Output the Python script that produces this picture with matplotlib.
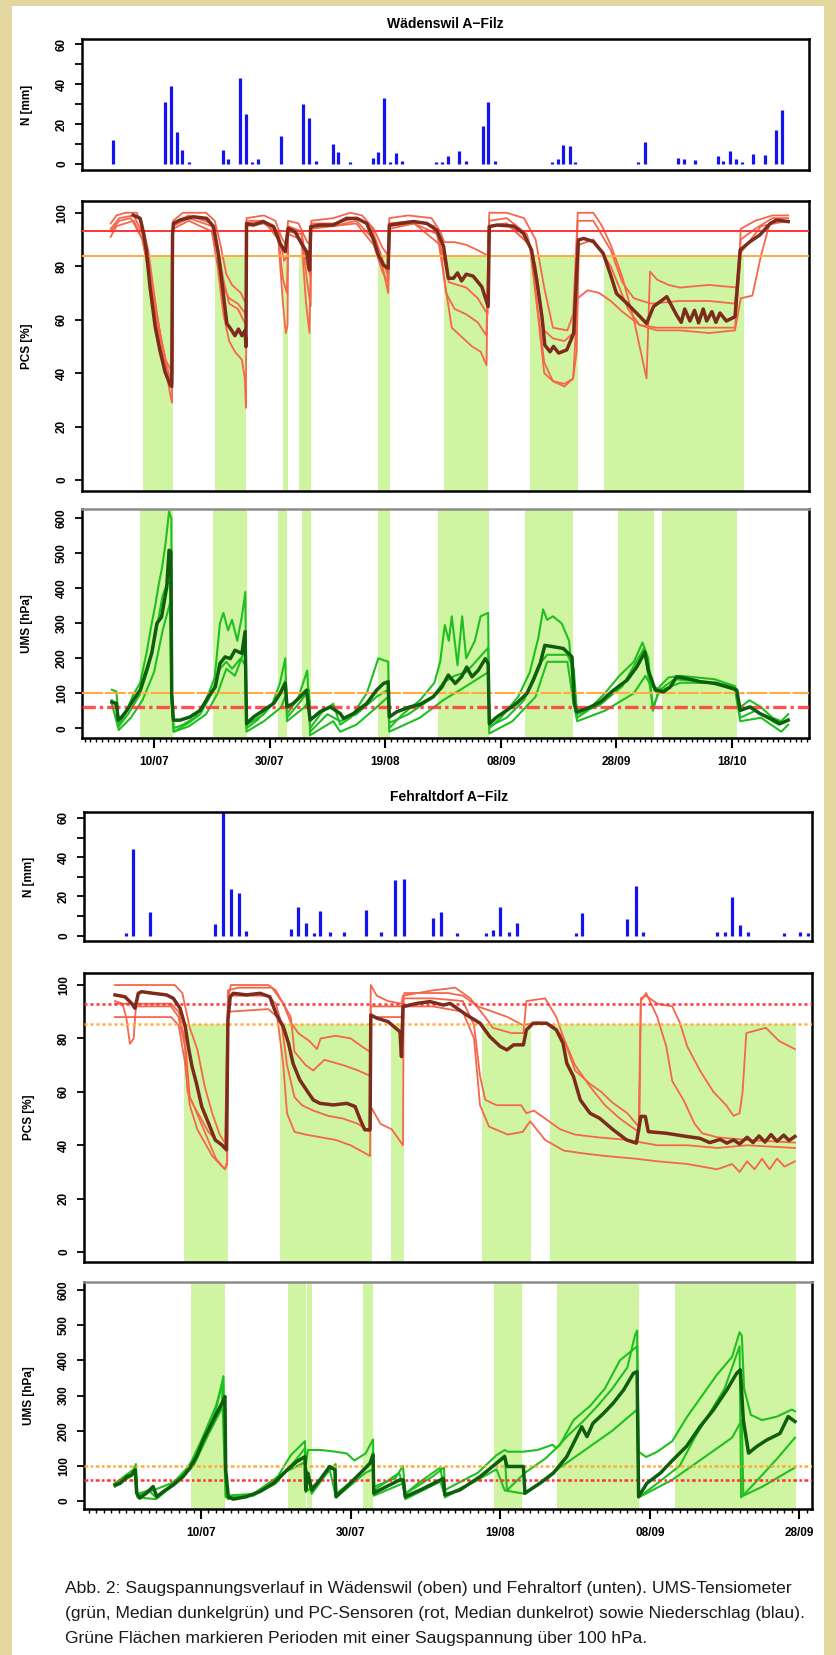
import numpy as np
import matplotlib
matplotlib.use('Agg')
import matplotlib.pyplot as plt
from matplotlib.patches import Rectangle

plt.rcParams['font.family'] = ['Liberation Sans', 'DejaVu Sans']

# ------------------------------------------------------------------ data
# x values are days after 1 July
W_TICK_DAYS = [9, 29, 49, 69, 89, 109]
W_TICK_LABELS = ['10/07', '30/07', '19/08', '08/09', '28/09', '18/10']
F_TICK_DAYS = [9, 29, 49, 69, 89]
F_TICK_LABELS = ['10/07', '30/07', '19/08', '08/09', '28/09']

TITLE_W = 'Wädenswil A\u2212Filz'
TITLE_F = 'Fehraltdorf A\u2212Filz'
CAPTION = ['Abb. 2: Saugspannungsverlauf in Wädenswil (oben) und Fehraltorf (unten). UMS-Tensiometer',
           '(grün, Median dunkelgrün) und PC-Sensoren (rot, Median dunkelrot) sowie Niederschlag (blau).',
           'Grüne Flächen markieren Perioden mit einer Saugspannung über 100 hPa.']

# precipitation, Wädenswil
W_RAIN_DAY = [1.9, 10.9, 11.9, 12.9, 13.9, 15.0, 20.9, 21.8, 23.9, 24.9, 25.9, 27.0, 31.0, 34.8,
              35.8, 37.0, 40.0, 40.9, 42.9, 46.8, 47.8, 48.8, 49.8, 50.9, 51.9, 57.8, 58.8, 59.8,
              61.8, 62.9, 65.9, 66.8, 67.9, 77.8, 78.8, 79.8, 80.9, 81.8, 92.8, 93.9, 99.7, 100.7,
              102.6, 106.6, 107.5, 108.7, 109.7, 110.7, 112.6, 114.7, 116.6, 117.6]
W_RAIN_MM = [12, 31, 39, 16, 7, 1, 7, 2.5, 43, 25, 1, 2.5, 14, 30,
             23, 1.5, 10, 6, 1, 3, 6, 33, 1, 5.5, 1.5, 1, 1, 4,
             6.5, 1.5, 19, 31, 1.5, 1, 2.5, 9.5, 9, 1, 1, 11, 3, 2.5,
             2, 4, 1.5, 6.5, 2.5, 1, 5, 4.5, 17, 27]

# precipitation, Fehraltorf
F_RAIN_DAY = [-1.0, -0.05, 2.2, 10.9, 12.0, 13.0, 14.05, 15.05, 21.0, 22.0, 23.1, 24.1, 24.96,
              26.2, 28.1, 31.1, 33.0, 35.0, 36.1, 40.0, 41.06, 43.2, 47.05, 48.0, 49.0, 50.2,
              51.2, 59.1, 60.0, 66.0, 67.1, 68.1, 78.0, 79.05, 80.0, 81.0, 82.1, 87.0, 89.1, 90.1]
F_RAIN_MM = [1.5, 44, 12, 6, 63, 24, 21.5, 2.5, 3.5, 14.5, 6.5, 1.5, 12.5,
             2, 2, 13, 2, 28.5, 29, 9, 12, 1.5, 1.5, 3, 14.5, 2,
             6.5, 1.5, 11.5, 8.5, 25.5, 2, 2, 2, 19.5, 5.5, 2, 1.5, 2, 1.5]

# shaded periods (suction > 100 hPa)
W_PC_SPANS = [(7.15, 12.3), (19.5, 24.9), (31.3, 32.1), (34.1, 36.1), (47.7, 49.9),
              (59.2, 66.7), (74.1, 82.3), (86.9, 111.1)]
W_UMS_SPANS = [(6.5, 12.3), (19.2, 25.1), (30.4, 31.95), (34.6, 36.2), (47.7, 49.9),
               (58.1, 67.0), (73.2, 81.5), (89.2, 95.5), (96.9, 109.9)]
F_PC_SPANS = [(6.77, 12.57), (19.56, 31.8), (34.4, 36.1), (46.6, 53.1), (55.7, 88.5)]
F_UMS_SPANS = [(7.6, 12.2), (20.6, 23.0), (23.2, 23.8), (30.7, 32.0), (48.2, 51.9),
               (56.55, 67.5), (72.3, 88.5)]

# threshold lines
W_PC_RED, W_PC_ORANGE = 93, 84
F_PC_RED, F_PC_ORANGE = 93, 85.4
UMS_RED, UMS_ORANGE = 60, 100

# ---- Wädenswil PC sensors [%]
W_PC_MED = [(5.4, 99.1), (6.6, 97.9), (7.2, 92.3), (7.7, 85.4), (8.3, 72.3), (9.2, 57.4), (10.0, 48.7),
            (10.9, 40.5), (11.8, 35.6), (12.06, 35.0), (12.2, 91.7), (12.35, 96), (13.5, 97.3),
            (15.8, 98.5), (18.1, 97.9), (19.3, 94.8), (20.1, 84.8), (20.7, 74.8), (21.6, 58.6),
            (22.4, 56.1), (23.0, 54.0), (23.6, 56.5), (24.2, 54.0), (24.75, 56.0), (24.9, 49.9),
            (25.0, 96), (26.2, 95.4), (27.9, 96.7), (29.7, 94.8), (30.8, 88.5), (31.7, 85.4),
            (32.2, 94.2), (33.4, 92.9), (34.5, 88.5), (35.4, 85.4), (35.9, 78.6), (36.1, 94.8),
            (37.7, 95.4), (40.0, 95.4), (42.3, 97.9), (44.1, 97.9), (45.8, 96), (47.0, 89.8),
            (47.8, 84.2), (48.7, 80.4), (49.5, 79.2), (49.7, 95.4), (51.56, 96), (53.9, 96.7),
            (56.2, 96), (57.9, 93.5), (59.1, 87.3), (59.9, 75.5), (60.8, 75.5), (61.5, 77.5),
            (62.2, 74.5), (63.0, 77.0), (64.2, 76.3), (65.7, 72.3), (66.8, 64.9), (67.0, 94.8),
            (68.3, 95.4), (71.2, 95), (72.9, 92.3), (74.3, 86.1), (75.2, 74.8), (76.1, 61.1),
            (76.6, 50.5), (77.5, 48.0), (78.1, 50.0), (79.0, 47.5), (80.4, 48.7), (81.6, 54.9),
            (82.4, 89.8), (83.3, 90.4), (85.0, 89.2), (86.7, 84.8), (87.9, 77.3), (89.0, 69.8),
            (90.8, 66.1), (92.5, 62.4), (94.2, 58.6), (95.4, 64.9), (97.7, 68.6), (99.4, 61.7),
            (100.2, 59.0), (100.8, 64.0), (101.7, 59.5), (102.5, 63.5), (103.2, 58.8),
            (104.0, 64.0), (104.6, 59.5), (105.5, 63.0), (106.2, 59.0), (106.9, 62.5),
            (108.0, 59.5), (109.5, 61.1), (110.4, 86.1), (112.1, 89.2), (113.8, 91.7),
            (115.6, 96), (116.7, 97.3), (118.7, 96.7)]
W_PC_1 = [(1.5, 96), (2.5, 99), (4, 100), (6, 100), (7, 95), (8, 86), (9, 70), (10, 55), (11, 45),
          (12.2, 40), (12.3, 97), (14, 100), (18, 100), (19.5, 97), (20.5, 88), (21.5, 77),
          (22.5, 73), (24, 70), (24.9, 66), (25, 98), (28, 99), (30, 97), (31, 91), (31.8, 88),
          (32.2, 97), (34, 96), (35.5, 89), (36.1, 88), (36.2, 97), (40, 98), (43, 100), (45, 99),
          (47, 94), (48.5, 87), (49.5, 84), (49.7, 98), (53, 99), (57, 98), (58.5, 93), (59.2, 89),
          (61, 89), (63, 88), (65, 86), (66.7, 84), (67, 100), (70, 100), (73, 98), (75, 90),
          (76.5, 72), (78, 57), (80.5, 56), (81.5, 62), (82.3, 100), (85, 100), (86.5, 95),
          (88, 88), (90, 76), (92, 60), (93.5, 45), (94.2, 38), (94.8, 78), (96, 75), (98, 73),
          (100, 72), (105, 73), (110, 72), (110.5, 94), (113, 97), (116, 99), (118.7, 99)]
W_PC_2 = [(1.5, 93), (3, 97), (5, 98), (7, 90), (8.5, 74), (10, 52), (11.5, 40), (12.1, 37),
          (12.3, 95), (15, 98), (19, 95), (20, 86), (21, 72), (22, 68), (23.5, 66), (24.9, 62),
          (25, 96), (28, 97), (30.5, 90), (31.3, 66), (31.8, 55), (32.1, 58), (32.2, 92),
          (34.5, 90), (35.3, 66), (35.9, 55), (36.2, 94), (40, 95), (44, 97), (47, 90),
          (48.5, 80), (49.5, 70), (49.8, 94), (54, 96), (58.5, 88), (59.5, 70), (61, 64),
          (63, 62), (65, 59), (66.5, 54), (66.9, 95), (70, 96), (74, 88), (75.5, 62),
          (76.5, 44), (78, 37), (80, 36), (81.5, 38), (82.3, 68), (84, 71), (86, 70), (88, 67),
          (90, 63), (93, 58), (96, 56), (100, 56), (105, 55), (109.5, 56), (110.5, 68),
          (112.5, 69), (114, 84), (115.5, 96), (118.7, 97)]
W_PC_3 = [(1.5, 94), (3, 98), (5.5, 99), (7, 92), (8, 82), (9.5, 62), (10.5, 50), (11.5, 40),
          (12.2, 36), (12.3, 96), (15, 99), (19, 96), (20, 88), (21, 75), (22, 66), (23.5, 64),
          (24.9, 58), (25.0, 97), (28, 97), (30.5, 93), (31.5, 82), (32.1, 84), (32.2, 95),
          (34.5, 93), (35.5, 80), (36.1, 76), (36.2, 96), (40, 96), (44, 98), (46.5, 95),
          (48, 86), (49.5, 76), (49.7, 96), (54, 97), (57.5, 95), (59, 84), (60, 74),
          (61.5, 73), (63, 72), (65, 68), (66.7, 62), (67, 97), (70, 98), (73.5, 92), (75, 80),
          (76.5, 56), (78, 53), (80, 52), (81.5, 55), (82.3, 97), (85, 97), (88, 86), (90, 74),
          (92, 68), (95, 66), (100, 67), (105, 67), (109.5, 66), (110.5, 90), (113, 94),
          (116, 98), (118.7, 98)]
W_PC_4 = [(1.5, 91), (2.5, 95), (5.5, 97), (7, 90), (8, 78), (9, 66), (10, 52), (11, 42),
          (11.8, 32), (12.1, 29), (12.3, 94), (15, 97), (19, 93), (20, 80), (21, 62), (22, 52),
          (23, 48), (24.2, 45), (24.7, 38), (24.9, 27), (25, 95), (28, 96), (30.5, 92),
          (31.3, 75), (32, 70), (32.2, 93), (34.5, 92), (35.5, 74), (36.1, 65), (36.2, 95),
          (40, 95), (44, 96), (47, 88), (48.5, 78), (49.5, 74), (49.8, 95), (54, 96), (58, 92),
          (59.3, 74), (60.5, 57), (62, 54), (64, 50), (65.5, 48), (66.5, 43), (66.9, 95),
          (70, 96), (74, 88), (75.5, 60), (76.5, 40), (78, 37), (80, 35), (81.5, 38),
          (82.1, 48), (82.5, 88), (85, 90), (88, 80), (91, 64), (93, 58), (96, 57), (100, 57),
          (105, 57), (109.5, 57), (110.5, 85), (114, 95), (118.7, 97)]

# ---- Wädenswil UMS tensiometers [hPa]
W_UMS_MED = [(1.7, 75), (2.5, 71), (2.8, 23), (3.4, 32), (4.3, 51), (5.4, 80), (6.6, 109),
             (7.7, 166), (8.6, 214), (9.5, 300), (10.3, 318), (11.2, 404), (11.6, 509),
             (11.9, 505), (12.06, 99), (12.35, 23), (13.5, 23), (15.2, 32), (17.0, 51),
             (18.4, 90), (19.6, 118), (20.4, 185), (21.3, 204), (22.2, 199), (23.0, 223),
             (24.2, 214), (24.75, 276), (25.0, 13), (26.2, 32), (27.9, 51), (29.7, 71),
             (30.8, 99), (31.7, 128), (32.0, 61), (33.1, 71), (34.3, 90), (35.4, 109), (36.0, 23),
             (37.7, 47), (39.5, 61), (41.2, 42), (41.8, 28), (43.5, 42), (45.8, 71), (47.5, 109),
             (48.7, 128), (49.5, 133), (49.7, 32), (51.0, 47), (53.3, 61), (55.0, 68), (57.3, 90),
             (58.8, 118), (59.9, 152), (61.1, 128), (62.2, 147), (63.1, 175), (64.0, 147),
             (65.1, 166), (66.3, 199), (66.8, 185), (67.0, 13), (68.3, 32), (70.0, 51),
             (71.7, 71), (73.5, 99), (74.6, 137), (75.8, 185), (76.6, 237), (78.1, 233),
             (79.8, 228), (81.3, 204), (81.7, 71), (82.1, 47), (83.9, 56), (86.2, 75),
             (88.5, 109), (90.8, 137), (92.5, 175), (93.9, 218), (94.5, 166), (95.7, 109),
             (97.1, 104), (98.3, 118), (99.4, 147), (101.2, 142), (103.5, 133), (106.3, 128),
             (109.2, 113), (109.8, 109), (110.4, 51), (112.1, 61), (113.8, 42), (115.6, 28),
             (117.3, 13), (118.7, 23)]
W_UMS_1 = [(1.7, 110), (2.5, 105), (2.9, 10), (4, 40), (5.4, 95), (6.6, 130), (7.7, 215),
           (8.6, 300), (9.2, 350), (9.8, 410), (10.4, 460), (11.0, 530), (11.6, 620), (12.0, 600),
           (12.1, 100), (12.4, 0), (14, 10), (16, 30), (18, 80), (19.5, 145), (20.4, 300),
           (21, 330), (21.8, 280), (22.5, 310), (23.4, 250), (24.2, 320), (24.8, 390), (25.0, 0),
           (27, 25), (29.5, 70), (30.8, 130), (31.7, 200), (32.0, 40), (34, 90), (35.5, 165),
           (36.0, 0), (38, 45), (40, 70), (41.2, 10), (43, 30), (45.8, 100), (47.8, 200),
           (49.5, 190), (49.7, 0), (52, 40), (55, 80), (57.5, 130), (58.5, 190), (59.3, 295),
           (60.0, 250), (60.5, 320), (61.5, 180), (62.3, 320), (63.0, 200), (64.5, 250),
           (65.5, 320), (66.8, 330), (67.0, 0), (69, 30), (72, 90), (74, 160), (75.5, 260),
           (76.3, 340), (77, 310), (78, 320), (79.5, 300), (80.8, 250), (81.6, 100), (82.2, 30),
           (84, 50), (87, 100), (89.5, 150), (92, 190), (93.5, 245), (94.5, 200), (95.3, 50),
           (96.5, 120), (98, 145), (100, 150), (103, 145), (106, 140), (109.5, 120), (110.4, 60),
           (112, 80), (114, 60), (116, 30), (117.5, 20), (118.7, 40)]
W_UMS_2 = [(1.7, 80), (2.5, 60), (2.9, 5), (4.5, 40), (6.5, 95), (8, 170), (9.5, 290),
           (10.5, 380), (11.2, 410), (11.8, 420), (12.0, 100), (12.4, -10), (15, 15), (17, 40),
           (19, 100), (20.4, 170), (21.5, 190), (22.5, 170), (24, 200), (24.8, 180), (25.0, 10),
           (28, 40), (30.5, 90), (31.8, 140), (32.0, 30), (34.5, 80), (35.8, 110), (36.0, -10),
           (39, 40), (41.2, 20), (44, 40), (47.5, 90), (49.5, 110), (49.7, 15), (53, 40),
           (57, 85), (59, 130), (61, 150), (63, 160), (66.8, 230), (67.0, 5), (70, 30), (73, 80),
           (75.5, 180), (77.0, 210), (80.5, 210), (81.6, 170), (82.2, 40), (86, 65), (90, 120),
           (93.8, 230), (95.3, 60), (96.5, 110), (99, 140), (103, 135), (109.5, 120),
           (110.4, 30), (113, 50), (117, 10), (118.7, 25)]
W_UMS_3 = [(1.7, 70), (2.9, -5), (5, 30), (7, 80), (9, 160), (10.5, 280), (11.8, 360),
           (12.0, 80), (12.4, -10), (15, 5), (18, 40), (20, 100), (21.5, 170), (23, 150),
           (24.8, 230), (25.0, -10), (28, 20), (31, 60), (31.9, 100), (32.0, 20), (35, 60),
           (35.9, 80), (36.0, -20), (40, 20), (41.2, -10), (44, 10), (47.5, 60), (49.5, 90),
           (49.7, -10), (55, 30), (59, 80), (62, 110), (66.8, 160), (67.0, -15), (71, 20),
           (75, 90), (77, 190), (80.5, 190), (81.6, 70), (82.2, 20), (87, 50), (92, 100),
           (94, 150), (95, 120), (97, 110), (100, 130), (105, 130), (109.5, 110), (110.4, 20),
           (114, 30), (117.5, -10), (118.7, 10)]

# ---- Fehraltorf PC sensors [%]
F_PC_MED = [(-2.5, 96.3), (-1.16, 95.6), (-0.27, 93.1), (0.18, 91.3), (0.62, 96.9), (1.07, 97.5),
            (2.6, 96.9), (4.4, 96.3), (5.3, 95), (6.2, 91.3), (6.9, 84.4), (7.3, 77), (7.8, 69.5),
            (8.4, 63.1), (9.1, 54.5), (10.0, 48.3), (10.9, 42), (11.8, 40.1), (12.4, 38.3),
            (12.6, 86.9), (12.9, 95.6), (13.3, 96.9), (15.1, 96.3), (16.9, 96.9), (18.2, 95.6),
            (19.1, 88.8), (20.0, 84.4), (20.7, 78.2), (21.3, 70.7), (22.2, 64.5), (23.1, 60.7),
            (24.0, 57), (24.9, 55.7), (26.7, 55.1), (28.5, 55.7), (29.6, 54.5), (30.3, 49.5),
            (30.9, 45.8), (31.6, 45.8), (31.7, 88.8), (32.5, 87.6), (34.0, 86.3), (35.6, 82.5),
            (35.8, 73.2), (36.0, 91.9), (37.8, 93.1), (39.6, 93.8), (41.4, 92.5), (42.3, 93.1),
            (44.5, 88.8), (46.3, 85.7), (47.6, 80.7), (49.0, 77), (49.9, 75.7), (50.8, 77.6),
            (52.1, 77.6), (52.5, 83.2), (53.4, 85.7), (55.2, 85.7), (56.5, 83.2), (57.4, 78.2),
            (57.9, 70.7), (58.8, 65.7), (59.7, 57), (61.0, 52), (62.3, 50.1), (64.1, 45.8),
            (65.9, 42), (67.2, 40.8), (67.8, 50.8), (68.4, 50.8), (68.8, 45.1), (71.2, 44.5),
            (73.9, 43.3), (75.7, 42.6), (77.0, 41.0), (78.4, 42.2), (79.3, 40.8), (80.2, 42.0),
            (81.0, 40.5), (82.0, 43.0), (82.8, 41.0), (83.6, 43.5), (84.4, 41.2), (85.2, 44.0),
            (86.0, 41.5), (86.9, 43.8), (87.6, 41.8), (88.4, 43.3)]
F_PC_1 = [(-2.5, 100), (5.5, 100), (6.5, 97), (7.5, 84), (8.5, 76), (9.5, 62), (10.5, 52),
          (11.5, 44), (12.4, 40), (12.6, 95), (13, 100), (18, 100), (19, 98), (20, 93), (21, 86),
          (22, 82), (23.5, 79), (24.5, 76), (25, 80), (27, 81), (29, 80), (30.5, 77), (31.6, 75),
          (31.7, 100), (32.5, 96), (34, 94), (35.8, 93), (36, 96), (40, 98), (43, 99), (45, 95),
          (47, 88), (48, 84), (50.5, 82), (52.1, 82), (52.5, 94), (55, 95), (56.5, 88),
          (57.5, 80), (59, 68), (61, 63), (62.5, 60), (64, 56), (66, 52), (67.5, 47), (67.8, 94),
          (68.5, 97), (70, 88), (71.2, 77), (72, 64), (73.5, 57), (75, 48), (76, 44.5),
          (78, 43), (82, 42), (88.4, 41)]
F_PC_2 = [(-2.5, 94), (-1.5, 93), (-1, 88), (-0.5, 78), (0, 80), (0.3, 92), (2, 92), (5, 92),
          (6, 88), (7, 75), (7.5, 58), (8, 55), (9.5, 45), (11, 35), (12.2, 31), (12.5, 34),
          (12.6, 98), (14, 99), (18.5, 99), (20, 93), (21, 88), (21.5, 75), (23, 70), (24, 68),
          (25.5, 72), (28, 70), (30, 68), (31.6, 66), (31.7, 92), (35.8, 92), (36.2, 97),
          (42, 97), (44, 96), (46, 92), (48, 90), (50, 88), (52, 85), (54, 86), (56, 85),
          (57.5, 80), (59, 70), (61, 62), (63, 55), (65, 50), (67, 46), (67.6, 45), (67.8, 95),
          (68.5, 96), (70, 93), (72, 92), (73, 86), (74, 77), (75.7, 68), (77.5, 60), (79.2, 55),
          (80.2, 51), (81, 52), (81.4, 60), (81.9, 82), (84.5, 84), (86.3, 79), (88.4, 76)]
F_PC_3 = [(-2.5, 93), (0, 93), (5, 93), (6, 90), (6.8, 80), (7.2, 60), (8, 55), (9, 50),
          (10, 45), (11, 42), (12.2, 39), (12.6, 96), (18, 96), (19, 93), (19.8, 85), (20.5, 70),
          (21.5, 58), (22.5, 55), (24, 53), (26, 51), (28, 50), (30, 48), (31.6, 45),
          (31.8, 54), (33, 48), (34.5, 46), (36, 40), (36.1, 95), (40, 95), (44, 94),
          (45.5, 85), (46.3, 66), (47, 57), (48.5, 55), (50.5, 55), (51.8, 55), (52.5, 52),
          (53.5, 53), (55, 50), (57, 46), (59, 44), (62, 43), (66, 42), (70, 40), (74, 40),
          (78, 39), (82, 40), (88.4, 39)]
F_PC_4 = [(-2.5, 88), (0, 88), (5, 88), (6, 85), (6.8, 72), (7.5, 55), (8.5, 46), (9.5, 41),
          (10.5, 36), (11.5, 33), (12.2, 31), (12.5, 33), (12.6, 90), (18, 91), (19.2, 88),
          (20, 70), (20.5, 52), (21.5, 45), (23, 44), (25, 43), (27, 42), (29, 40), (31.6, 36),
          (31.7, 88), (34, 88), (35.8, 88), (36.1, 92), (40, 92), (44, 90), (45.5, 80),
          (46.3, 55), (47.5, 47), (50, 44), (52, 45), (53, 49), (55, 42), (57.5, 38), (60, 37),
          (63, 36), (67, 35), (70, 34), (74, 33), (78, 31), (80, 33), (81, 30), (82, 34),
          (83, 31), (84, 35), (85, 31), (86, 35), (87, 32), (88.4, 34)]

# ---- Fehraltorf UMS tensiometers [hPa]
F_UMS_MED = [(-2.5, 45.5), (-1.8, 50), (-0.9, 69), (-0.3, 74), (0.2, 88), (0.4, 22), (0.8, 8),
             (1.7, 22), (2.6, 41), (3.1, 12), (4.0, 27), (5.3, 45.5), (6.6, 69), (7.5, 93),
             (8.4, 126), (9.3, 173), (10.2, 211), (11.1, 249), (11.8, 278), (12.2, 297),
             (12.3, 88), (12.65, 12), (13.3, 5), (15.1, 12), (16.9, 27), (18.7, 50), (20.5, 88),
             (21.8, 112), (22.9, 126), (23.0, 31), (23.3, 79), (23.8, 31), (24.9, 60), (26.2, 98),
             (26.9, 88), (27.05, 12), (28.5, 41), (30.3, 79), (31.6, 107), (32.0, 131),
             (32.1, 22), (33.8, 41), (35.6, 60), (36.05, 60), (36.3, 12), (38.3, 31), (40.1, 50),
             (41.4, 64), (41.6, 17), (43.6, 31), (46.3, 69), (48.5, 107), (49.6, 126),
             (49.9, 98), (52.1, 98), (52.3, 22), (54.3, 50), (56.1, 79), (57.9, 126), (58.8, 164),
             (59.9, 211), (60.6, 183), (61.4, 221), (62.8, 249), (64.1, 278), (65.5, 316),
             (66.8, 363), (67.3, 368), (67.5, 12), (68.6, 50), (70.4, 79), (72.1, 117),
             (73.9, 155), (75.7, 211), (77.5, 259), (79.3, 316), (80.6, 363), (81.1, 373),
             (81.5, 230), (82.2, 136), (83.3, 155), (84.6, 173), (86.4, 192), (87.5, 240),
             (88.4, 226)]
F_UMS_1 = [(-2.5, 50), (0, 90), (0.3, 105), (0.5, 20), (2, 30), (3, 10), (5, 45), (7, 90),
           (9, 150), (11, 260), (12.0, 355), (12.3, 60), (12.6, 5), (16, 20), (19, 60),
           (21, 130), (22.9, 170), (23.0, 100), (23.3, 145), (25, 145), (27, 140), (28.5, 135),
           (29.5, 115), (31, 135), (32.0, 175), (32.1, 40), (35, 65), (36, 100), (36.3, 20),
           (38, 50), (41, 95), (41.5, 30), (46, 80), (48.5, 130), (49.6, 145), (50, 140),
           (52, 140), (54, 145), (56, 160), (56.5, 150), (58, 185), (60, 225), (62, 270),
           (64, 320), (66, 380), (67, 470), (67.3, 485), (67.5, 140), (68.5, 125), (70, 140),
           (72, 170), (74, 240), (76, 300), (78, 360), (80, 410), (81, 480), (81.3, 470),
           (81.6, 320), (82.5, 245), (84, 230), (86, 240), (88, 260), (88.4, 255)]
F_UMS_2 = [(-2.5, 45), (-0.3, 70), (0.2, 95), (0.5, 15), (2, 25), (5, 50), (7, 80), (9, 170),
           (11, 270), (11.8, 330), (12.3, 10), (16, 15), (19, 50), (21.8, 120), (22.9, 150),
           (23.0, 25), (25, 60), (27, 105), (27.05, 20), (30, 70), (31.6, 110), (32.0, 140),
           (32.1, 30), (35.5, 80), (36.3, 20), (40, 70), (41.5, 95), (41.6, 10), (46, 60),
           (48.5, 110), (49.6, 130), (49.9, 30), (52.3, 80), (55, 120), (57, 160), (58.8, 230),
           (61, 270), (63, 320), (65, 400), (67.3, 440), (67.5, 10), (70, 50), (73, 100),
           (75, 180), (77, 250), (79, 320), (81, 440), (81.2, 10), (83, 50), (86, 120),
           (88.4, 180)]
F_UMS_3 = [(-2.5, 40), (0.2, 80), (0.5, 10), (3, 5), (5, 40), (8, 100), (10, 190), (12.2, 280),
           (12.3, 15), (16, 20), (20, 80), (22.9, 110), (23.3, 70), (23.8, 20), (26.2, 90),
           (27.05, 10), (31, 80), (32.0, 90), (32.1, 15), (36, 50), (36.3, 5), (41, 55),
           (41.6, 15), (46, 60), (48.5, 90), (49.6, 30), (52.3, 20), (56, 80), (60, 140),
           (64, 200), (67.3, 260), (67.5, 10), (72, 60), (76, 120), (80, 180), (81.3, 230),
           (81.5, 15), (84, 40), (88.4, 95)]

# ------------------------------------------------------------------ style
W_PX, H_PX = 836, 1655
BEIGE = '#e3d69f'
SPAN_GREEN = '#d0f5a2'
RED_LINE = '#f5664a'
MED_RED = '#7c2b1c'
GREEN_LINE = '#1fbf1f'
MED_GREEN = '#0d5f0d'
BLUE = '#1414f0'
THR_RED = '#ff3434'
THR_ORANGE = '#ffab3d'

fig = plt.figure(figsize=(W_PX / 100, H_PX / 100), dpi=100)
fig.patch.set_facecolor(BEIGE)
fig.add_artist(Rectangle((12 / W_PX, 0), 812 / W_PX, 1 - 6 / H_PX, transform=fig.transFigure,
                         facecolor='white', edgecolor='none', zorder=0))


def make_ax(x0, x1, y0, y1):
    ax = fig.add_axes([x0 / W_PX, 1 - y1 / H_PX, (x1 - x0) / W_PX, (y1 - y0) / H_PX])
    for s in ax.spines.values():
        s.set_linewidth(1.8)
        s.set_color('black')
    return ax


def xy(pairs):
    a = np.array(pairs, dtype=float)
    return a[:, 0], a[:, 1]


def yaxis_style(ax, ticks, labels, ylabel, label_x):
    ax.set_yticks(ticks)
    ax.set_yticklabels(labels, fontweight='bold', fontsize=8.5, rotation=90, va='center')
    ax.tick_params(axis='y', direction='out', length=5, width=1.3, pad=5)
    ax.set_ylabel(ylabel, fontweight='bold', fontsize=8.5)
    ax.yaxis.set_label_coords(label_x, 0.5)


def rain_panel(ax, days, mm, xlim, ylim, ylx):
    ax.vlines(days, 0, mm, color=BLUE, lw=2.3)
    ax.set_xlim(*xlim)
    ax.set_ylim(*ylim)
    ax.set_xticks([])
    yaxis_style(ax, [0, 10, 20, 30, 40, 50, 60], ['0', '', '20', '', '40', '', '60'], 'N [mm]', ylx)


def spans(ax, sp, top):
    lo = ax.get_ylim()[0]
    for a, b in sp:
        ax.fill_between([a, b], lo, top, color=SPAN_GREEN, lw=0, zorder=1)


def pc_panel(ax, sp, lines, med, red, orange, xlim, ylim, ylx, dotted):
    ax.set_xlim(*xlim)
    ax.set_ylim(*ylim)
    spans(ax, sp, orange)
    for ln in lines:
        x, y = xy(ln)
        ax.plot(x, y, color=RED_LINE, lw=1.3, zorder=2)
    if dotted:
        ax.axhline(red, color=THR_RED, lw=1.8, dashes=(1.2, 1.2), zorder=3)
        ax.axhline(orange, color=THR_ORANGE, lw=1.8, dashes=(1.2, 1.2), zorder=3)
    else:
        ax.axhline(red, color=THR_RED, lw=1.4, zorder=3)
        ax.axhline(orange, color=THR_ORANGE, lw=1.4, zorder=3)
    x, y = xy(med)
    ax.plot(x, y, color=MED_RED, lw=2.5, zorder=4)
    ax.set_xticks([])
    yaxis_style(ax, [0, 20, 40, 60, 80, 100], ['0', '20', '40', '60', '80', '100'], 'PCS [%]', ylx)


def ums_panel(ax, sp, lines, med, xlim, ylim, ylx, ticks, labels, top_style):
    ax.set_xlim(*xlim)
    ax.set_ylim(*ylim)
    spans(ax, sp, ylim[1])
    for ln in lines:
        x, y = xy(ln)
        ax.plot(x, y, color=GREEN_LINE, lw=1.5, zorder=2)
    if top_style:
        ax.axhline(UMS_ORANGE, color=THR_ORANGE, lw=1.5, dashes=(10, 1), zorder=3)
        ax.axhline(UMS_RED, color=THR_RED, lw=2.4, dashes=(4, 1.2, 1, 1.2), zorder=3, alpha=0.85)
    else:
        ax.axhline(UMS_ORANGE, color=THR_ORANGE, lw=1.8, dashes=(1.5, 1, 1, 1), zorder=3)
        ax.axhline(UMS_RED, color=THR_RED, lw=1.8, dashes=(1.5, 1, 1, 1), zorder=3)
    x, y = xy(med)
    ax.plot(x, y, color=MED_GREEN, lw=2.5, zorder=4)
    ax.spines['top'].set_color('#8c8c8c')
    yaxis_style(ax, [0, 100, 200, 300, 400, 500, 600],
                ['0', '100', '200', '300', '400', '500', '600'], 'UMS [hPa]', ylx)
    ax.set_xticks(ticks)
    ax.set_xticklabels(labels, fontweight='bold', fontsize=8.5)
    ax.set_xticks(np.arange(int(np.ceil(xlim[0])), int(xlim[1]) + 1), minor=True)
    ax.tick_params(axis='x', which='major', direction='out', length=7, width=1.5, pad=6)
    ax.tick_params(axis='x', which='minor', direction='out', length=3, width=1.0)


W_XLIM = (-3.46, 122.3)
F_XLIM = (-6.64, 90.68)
YLAB_X = -0.067

# ---- Wädenswil
fig.text(445 / W_PX, 1 - 24 / H_PX, TITLE_W, ha='center', va='center', fontsize=10, fontweight='bold')
ax1 = make_ax(82, 809, 39, 170)
rain_panel(ax1, W_RAIN_DAY, W_RAIN_MM, W_XLIM, (-3.0, 62.5), YLAB_X)
ax2 = make_ax(82, 809, 201, 491)
pc_panel(ax2, W_PC_SPANS, [W_PC_1, W_PC_2, W_PC_3, W_PC_4], W_PC_MED, W_PC_RED, W_PC_ORANGE,
         W_XLIM, (-4.1, 104.4), YLAB_X, False)
ax3 = make_ax(82, 809, 509, 738)
ums_panel(ax3, W_UMS_SPANS, [W_UMS_1, W_UMS_2, W_UMS_3], W_UMS_MED, W_XLIM, (-28, 627), YLAB_X,
          W_TICK_DAYS, W_TICK_LABELS, True)

# ---- Fehraltorf
fig.text(449 / W_PX, 1 - 797 / H_PX, TITLE_F, ha='center', va='center', fontsize=10, fontweight='bold')
ax4 = make_ax(84, 812, 812, 941)
rain_panel(ax4, F_RAIN_DAY, F_RAIN_MM, F_XLIM, (-2.7, 63), YLAB_X)
ax5 = make_ax(84, 812, 973, 1262)
pc_panel(ax5, F_PC_SPANS, [F_PC_1, F_PC_2, F_PC_3, F_PC_4], F_PC_MED, F_PC_RED, F_PC_ORANGE,
         F_XLIM, (-3.7, 104.5), YLAB_X, True)
ax6 = make_ax(84, 812, 1282, 1509)
ums_panel(ax6, F_UMS_SPANS, [F_UMS_1, F_UMS_2, F_UMS_3], F_UMS_MED, F_XLIM, (-23, 623), YLAB_X,
          F_TICK_DAYS, F_TICK_LABELS, False)

# ---- caption
for i, line in enumerate(CAPTION):
    fig.text(65 / W_PX, 1 - (1589 + 24.5 * i) / H_PX, line, ha='left', va='center', fontsize=12.6,
             color='#1a1a1a')

fig.savefig('out.png', dpi=100, facecolor=BEIGE)
